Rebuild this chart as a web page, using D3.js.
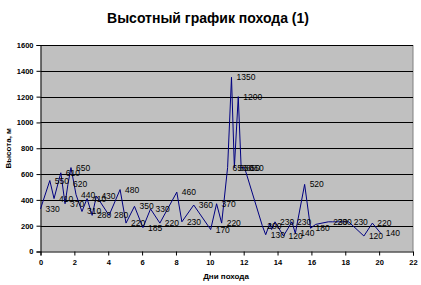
<!DOCTYPE html>
<html>
<head>
<meta charset="utf-8">
<script src="https://cdn.jsdelivr.net/npm/d3@7"></script>
<style>
  body { margin: 0; background: #fff; }
  svg { display: block; font-family: "Liberation Sans", Arial, sans-serif; }
</style>
</head>
<body>
<svg id="chart" width="421" height="285"></svg>
<script>
// days of the hike and altitude (m)
const days = [0, 0.55, 0.8, 1.2, 1.45, 1.62, 1.8, 2.1, 2.45, 2.75, 3.05, 3.3, 4.05, 4.7,
  5.05, 5.55, 6.05, 6.5, 7.05, 8.05, 8.35, 9.05, 10.05, 10.4, 10.7, 11.05, 11.28, 11.45,
  11.68, 11.85, 12.05, 13.1, 13.3, 13.55, 13.65, 13.85, 14.35, 14.85, 15.05, 15.6, 15.95,
  16.25, 17.0, 17.25, 18.2, 19.1, 19.6, 20.1];
const heights = [330, 550, 410, 610, 370, 520, 650, 440, 310, 410, 280, 430, 280, 480,
  220, 350, 185, 330, 220, 460, 230, 360, 170, 370, 220, 650, 1350, 650,
  1200, 650, 650, 200, 130, 220, 170, 230, 120, 230, 140, 520, 180,
  210, 230, 230, 230, 120, 220, 140];
const labels = ["330", "550", "410", "610", "370", "620", "650", "440", "310", "410", "280", "430", "280", "480",
  "220", "350", "185", "330", "220", "460", "230", "360", "170", "370", "220", "650", "1350", "650",
  "1200", "650", "650", "200", "130", "", "", "230", "120", "230", "140", "520", "180",
  "", "230", "230", "230", "120", "220", "140"];
const xTicks = d3.range(0, 23, 2);
const yTicks = d3.range(0, 1601, 200);

const svg = d3.select("#chart");
const x = d3.scaleLinear().domain([0, 22]).range([40.5, 413]);
const y = d3.scaleLinear().domain([0, 1600]).range([251.5, 45]);

// plot area
svg.append("rect")
  .attr("x", x(0)).attr("y", y(1600))
  .attr("width", x(22) - x(0)).attr("height", y(0) - y(1600))
  .attr("fill", "#c0c0c0");
svg.append("line")
  .attr("x1", x(22)).attr("x2", x(22)).attr("y1", y(1600)).attr("y2", y(0))
  .attr("stroke", "#808080");

// grid
svg.append("g").selectAll("line").data(yTicks.slice(1)).join("line")
  .attr("x1", x(0)).attr("x2", x(22))
  .attr("y1", d => Math.round(y(d)) + 0.5).attr("y2", d => Math.round(y(d)) + 0.5)
  .attr("stroke", "#000");

// axes
const yAxis = svg.append("g")
  .attr("transform", `translate(${x(0)},0)`)
  .call(d3.axisLeft(y).tickValues(yTicks).tickFormat(d3.format("d")).tickSize(4).tickPadding(3));
const xAxis = svg.append("g")
  .attr("transform", `translate(0,${y(0)})`)
  .call(d3.axisBottom(x).tickValues(xTicks).tickFormat(d3.format("d")).tickSize(4).tickPadding(4));
[yAxis, xAxis].forEach(a => {
  a.select(".domain").attr("stroke", "#000");
  a.selectAll(".tick line").attr("stroke", "#000");
  a.selectAll("text").attr("font-size", 7.5).attr("font-weight", "bold")
    .attr("fill", "#000").attr("font-family", "Liberation Sans, Arial, sans-serif");
});

// line
const pts = days.map((d, i) => [d, heights[i]]);
svg.append("path")
  .datum(pts)
  .attr("fill", "none")
  .attr("stroke", "#000080")
  .attr("stroke-width", 1)
  .attr("d", d3.line().x(d => x(d[0])).y(d => y(d[1])));

// data labels
svg.append("g").selectAll("text").data(pts).join("text")
  .attr("x", d => x(d[0]) + 5)
  .attr("y", d => y(d[1]) + 3)
  .attr("font-size", 8.5)
  .attr("fill", "#000")
  .text((d, i) => labels[i]);

// titles
svg.append("text")
  .attr("x", 208).attr("y", 23)
  .attr("text-anchor", "middle")
  .attr("font-size", 14).attr("font-weight", "bold")
  .text("Высотный график похода (1)");
svg.append("text")
  .attr("x", 226).attr("y", 279)
  .attr("text-anchor", "middle")
  .attr("font-size", 8).attr("font-weight", "bold")
  .text("Дни похода");
svg.append("text")
  .attr("transform", `translate(11,${(y(0) + y(1600)) / 2}) rotate(-90)`)
  .attr("text-anchor", "middle")
  .attr("font-size", 8).attr("font-weight", "bold")
  .text("Высота, м");
</script>
</body>
</html>
